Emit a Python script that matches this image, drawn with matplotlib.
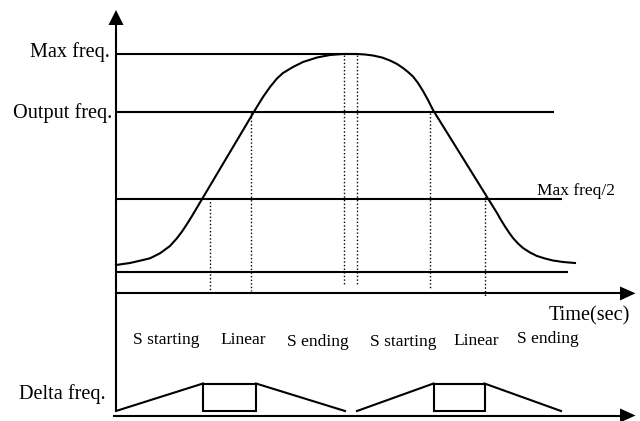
import matplotlib
matplotlib.use("Agg")
import matplotlib.pyplot as plt

plt.rcParams["font.family"] = ["Liberation Serif", "DejaVu Serif"]

# ---- diagram data (drawing units: 640 x 421 canvas, y grows downward) ----
# frequency reference levels
level_names = ["Max freq.", "Output freq.", "Max freq/2", "base"]
level_y = [53.5, 112, 198.5, 271.5]
level_x_end = [357, 554, 562, 568]

# S-curve acceleration / deceleration profile
curve_x = [116, 130, 140, 150, 160, 170, 176.7, 181.7, 186.7, 191.7, 255,
           263, 270, 277, 283, 293, 303, 317, 330, 343, 357,
           365, 373, 382, 390, 397, 403, 408, 413, 418, 423, 428, 433, 497,
           501, 505, 509, 513, 518, 523, 530, 537, 545, 553, 563, 575]
curve_y = [265, 263, 260.7, 258.3, 253.3, 246, 238.5, 232, 224.5, 216.5, 110,
           97, 87, 78.5, 73, 67, 62, 57.5, 55, 54, 54,
           54.5, 55.5, 57.5, 60.5, 64, 68, 72, 76.5, 83, 91, 100, 110, 213,
           220, 226.5, 232.5, 238, 243.5, 248, 252.5, 256, 258.5, 260.5, 262, 263]

# dotted phase boundaries: x, top, bottom
mark_x = [210, 251, 344, 357, 430, 485]
mark_top = [198, 113, 55, 55, 113, 193]
mark_bot = [291, 291, 284, 284, 289, 296]

# delta-frequency profile segments
delta_up1_x, delta_up1_y = [116, 203], [411, 383.5]
delta_dn1_x, delta_dn1_y = [256, 345], [383.5, 411]
delta_up2_x, delta_up2_y = [357, 433.5], [411, 383.5]
delta_dn2_x, delta_dn2_y = [484.5, 561], [383.5, 411]
delta_box1 = (203, 256, 383.5, 411)
delta_box2 = (433.5, 484.5, 383.5, 411)

phase_labels = ["S starting", "Linear", "S ending", "S starting", "Linear", "S ending"]
phase_x = [133, 220, 287, 370, 453, 517]
phase_y = [343.5, 343.5, 346, 346.5, 345, 343]

fig = plt.figure(figsize=(6.4, 4.21), dpi=100)
ax = fig.add_axes([0, 0, 1, 1])
ax.set_xlim(0, 640)
ax.set_ylim(421, 0)
ax.axis("off")

LW = 1.5
k = "black"

# axes of the upper plot
ax_x0 = 116
time_y = 293.3
bottom_y = 415.5
ax.plot([ax_x0, ax_x0], [22, 411], color=k, lw=LW, solid_capstyle="butt")
ax.fill([108.5, 123.5, 116], [25, 25, 10], color=k, lw=0)
ax.plot([ax_x0, 622], [time_y, time_y], color=k, lw=LW, solid_capstyle="butt")
ax.fill([620, 620, 635.5], [286.5, 300.5, time_y], color=k, lw=0)
ax.plot([113, 622], [bottom_y, bottom_y], color=k, lw=LW, solid_capstyle="butt")
ax.fill([620, 620, 635.5], [408.5, 422.5, bottom_y], color=k, lw=0)

# reference levels
for y, xe in zip(level_y, level_x_end):
    ax.plot([ax_x0, xe], [y, y], color=k, lw=LW, solid_capstyle="butt")

# frequency curve
ax.plot(curve_x, curve_y, color=k, lw=LW, solid_joinstyle="round")

# dotted phase boundaries
for x, t, b in zip(mark_x, mark_top, mark_bot):
    ax.plot([x, x], [t, b], color=k, lw=1.0, linestyle=(0, (1, 1.6)))

# delta-frequency profile
for xs, ys in [(delta_up1_x, delta_up1_y), (delta_dn1_x, delta_dn1_y),
               (delta_up2_x, delta_up2_y), (delta_dn2_x, delta_dn2_y)]:
    ax.plot(xs, ys, color=k, lw=LW)
for x0, x1, y0, y1 in [delta_box1, delta_box2]:
    ax.plot([x0, x1, x1, x0, x0], [y0, y0, y1, y1, y0], color=k, lw=LW,
            solid_joinstyle="miter")

# text
big = 14.6
small = 12.5
ax.text(110, 57, "Max freq.", fontsize=big, ha="right", va="baseline")
ax.text(112, 118, "Output freq.", fontsize=big, ha="right", va="baseline")
ax.text(537, 195, "Max freq/2", fontsize=small, ha="left", va="baseline")
ax.text(630, 320, "Time(sec)", fontsize=big, ha="right", va="baseline")
ax.text(106, 398.5, "Delta freq.", fontsize=big, ha="right", va="baseline")
for lab, x, y in zip(phase_labels, phase_x, phase_y):
    ax.text(x, y, lab, fontsize=small, ha="left", va="baseline")

fig.savefig("out.png", dpi=100)
